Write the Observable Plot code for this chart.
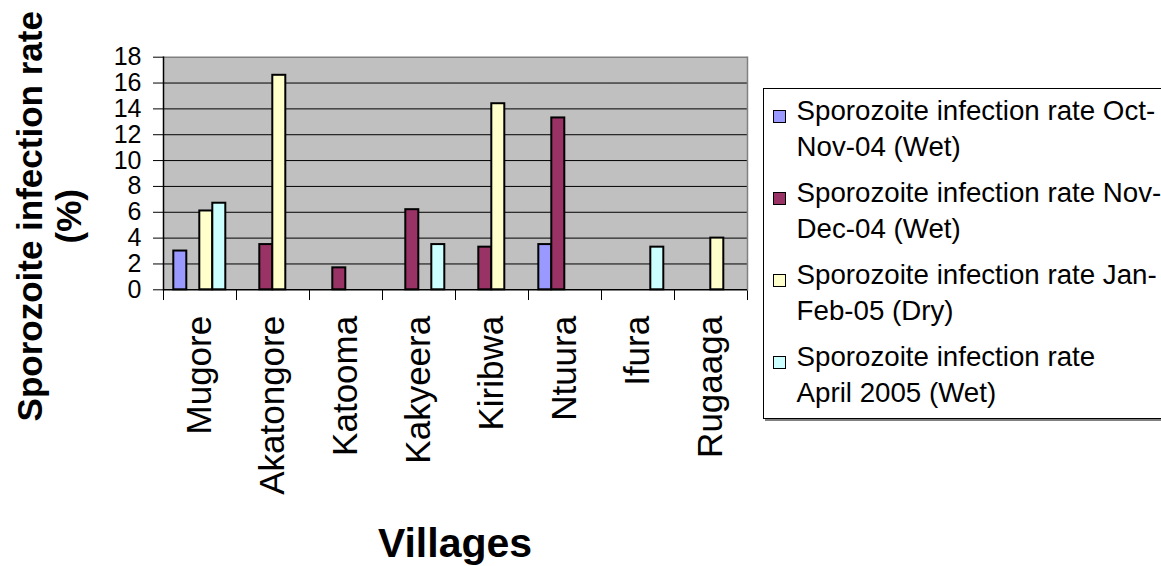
<!DOCTYPE html>
<html>
<head>
<meta charset="utf-8">
<script src="https://cdn.jsdelivr.net/npm/d3@7"></script>
<script src="https://cdn.jsdelivr.net/npm/@observablehq/plot@0.6"></script>
<style>
html, body { margin: 0; padding: 0; background: #fff; overflow: hidden; }
#wrap { position: relative; width: 1161px; height: 566px; overflow: hidden; font-family: "Liberation Sans", Arial, sans-serif; color: #000; }
#chart { position: absolute; left: 0; top: 0; }
.ytitle { position: absolute; width: 500px; height: 78.6px; left: -201.2px; top: 176.7px; transform: rotate(-90deg); font-weight: bold; font-size: 35px; line-height: 39.3px; text-align: center; white-space: pre; }
.xtitle { position: absolute; left: 255px; top: 522.6px; width: 400px; text-align: center; font-weight: bold; font-size: 41px; line-height: 41px; }
.legend { position: absolute; left: 762.7px; top: 88.3px; width: 430px; height: 330.7px; box-sizing: border-box; border: 1px solid #000; box-shadow: 2px 2px 0 #808080; padding: 4.2px 0 0 9.6px; background: #fff; }
.item { display: flex; align-items: flex-start; margin-bottom: 10.5px; }
.sw { width: 13px; height: 13px; box-sizing: border-box; border: 1px solid #000; margin-top: 16.5px; flex: none; }
.lab { margin-left: 10.3px; font-size: 27.7px; line-height: 35.7px; white-space: pre; }
</style>
</head>
<body>
<div id="wrap"><div id="chart"></div></div>
<script>
const villages = ["Mugore", "Akatongore", "Katooma", "Kakyeera", "Kiribwa", "Ntuura", "Ifura", "Rugaaga"];
const series = [
  "Sporozoite infection rate Oct-\nNov-04 (Wet)",
  "Sporozoite infection rate Nov-\nDec-04 (Wet)",
  "Sporozoite infection rate Jan-\nFeb-05 (Dry)",
  "Sporozoite infection rate\nApril 2005 (Wet)"
];
const colors = ["#9999FF", "#993366", "#FFFFCC", "#CCFFFF"];
const octNov04 = [3.0, null, null, null, null, 3.5, null, null];
const novDec04 = [null, 3.5, 1.7, 6.2, 3.3, 13.3, null, null];
const janFeb05 = [6.1, 16.6, null, null, 14.4, null, null, 4.0];
const april05 = [6.7, null, null, 3.5, null, null, 3.3, null];
const yTicks = [0, 2, 4, 6, 8, 10, 12, 14, 16, 18];
const yTitle = ["Sporozoite infection rate", "(%)"];
const xTitle = "Villages";

const rows = [octNov04, novDec04, janFeb05, april05].flatMap((vals, s) =>
  vals.map((v, i) => ({village: villages[i], series: series[s], value: v})).filter(d => d.value != null)
);

const yMax = yTicks[yTicks.length - 1];

const chart = Plot.plot({
  width: 1161,
  height: 566,
  marginLeft: 162.7,
  marginRight: 413.7,
  marginTop: 56.7,
  marginBottom: 276.7,
  style: {fontFamily: '"Liberation Sans", Arial, sans-serif', fontSize: "25px", color: "#000", background: "transparent"},
  fx: {domain: villages, padding: 0, label: null},
  x: {domain: series, paddingInner: 0, paddingOuter: 0.68, axis: null},
  y: {domain: [0, yMax], label: null},
  color: {domain: series, range: colors},
  marks: [
    Plot.frame({anchor: "left", stroke: "#000", insetBottom: -10, shapeRendering: "crispEdges"}),
    Plot.frame({anchor: "right", stroke: "#000", insetBottom: -10, shapeRendering: "crispEdges"}),
    Plot.frame({fill: "#c0c0c0", stroke: "none", shapeRendering: "crispEdges"}),
    Plot.gridY(yTicks.filter(t => t > 0 && t < yMax), {stroke: "#000", strokeOpacity: 1, strokeWidth: 1}),
    Plot.ruleY([yMax], {stroke: "#808080", strokeWidth: 1.5}),
    Plot.frame({anchor: "right", facetAnchor: "right", stroke: "#808080", strokeWidth: 1.5}),
    Plot.barY(rows, {fx: "village", x: "series", y: "value", fill: "series", stroke: "#000", strokeWidth: 2}),
    Plot.ruleY([0], {stroke: "#000", strokeWidth: 1.5}),
    Plot.frame({anchor: "left", facetAnchor: "left", stroke: "#000", strokeWidth: 1.5}),
    Plot.axisY(yTicks, {tickSize: 10, tickPadding: 12, fontSize: 25, label: null}),
    Plot.axisFx({anchor: "bottom", tickSize: 0, tickPadding: 26, tickRotate: -90, fontSize: 35, label: null})
  ]
});
document.getElementById("chart").appendChild(chart);

const wrap = document.getElementById("wrap");
const yt = document.createElement("div");
yt.className = "ytitle";
yt.textContent = yTitle.join("\n");
wrap.appendChild(yt);

const xt = document.createElement("div");
xt.className = "xtitle";
xt.textContent = xTitle;
wrap.appendChild(xt);

const lg = document.createElement("div");
lg.className = "legend";
series.forEach((s, i) => {
  const it = document.createElement("div");
  it.className = "item";
  const sw = document.createElement("div");
  sw.className = "sw";
  sw.style.background = colors[i];
  const lb = document.createElement("div");
  lb.className = "lab";
  lb.textContent = s;
  it.appendChild(sw);
  it.appendChild(lb);
  lg.appendChild(it);
});
wrap.appendChild(lg);
</script>
</body>
</html>
